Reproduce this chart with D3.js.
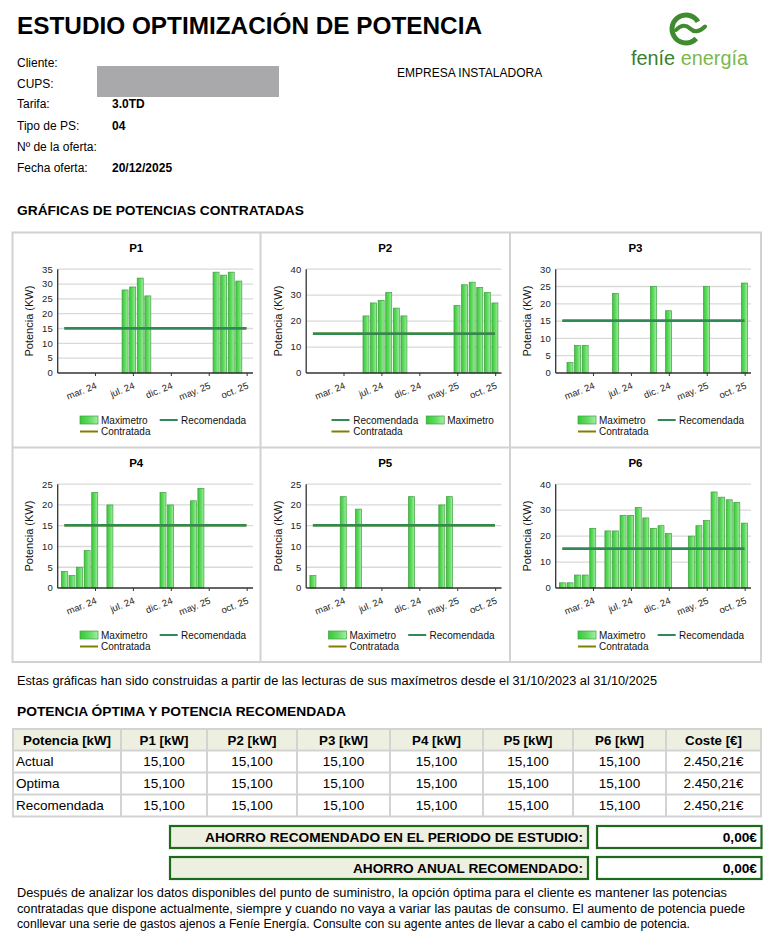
<!DOCTYPE html>
<html><head><meta charset="utf-8">
<script src="https://cdn.jsdelivr.net/npm/d3@7"></script>
<style>
html,body{margin:0;padding:0;background:#fff;}
svg{display:block;font-family:"Liberation Sans",Arial,Helvetica,sans-serif;}
</style></head><body>
<svg id="page" width="774" height="931"></svg>
<script>
// ---------- DATA ----------
const readings = [1,2,3,4,5,6,7,8,9,10,11,12,13,14,15,16,17,18,19,20,21,22,23,24,25];
const P1 = [null,null,null,null,null,null,null,null,28,29,32,26,null,null,null,null,null,null,null,null,34,33,34,31,null];
const P2 = [null,null,null,null,null,null,null,22,27,28,31,25,22,null,null,null,null,null,null,26,34,35,33,31,27];
const P3 = [null,3,8,8,null,null,null,23,null,null,null,null,25,null,18,null,null,null,null,25,null,null,null,null,26];
const P4 = [4,3,5,9,23,null,20,null,null,null,null,null,null,23,20,null,null,21,24,null,null,null,null,null,null];
const P5 = [3,null,null,null,22,null,19,null,null,null,null,null,null,22,null,null,null,20,22,null,null,null,null,null,null];
const P6 = [2,2,5,5,23,null,22,22,28,28,31,27,23,24,21,null,null,20,24,26,37,35,34,33,25];
const periodNames = ["P1","P2","P3","P4","P5","P6"];
const recomendada = [15.1,15.1,15.1,15.1,15.1,15.1];
const contratada = [15.1,15.1,15.1,15.1,15.1,15.1];
const yMax = [35,40,30,25,25,40];
const yStep = [5,10,5,5,5,10];
const xTickLabels = ["mar. 24","jul. 24","dic. 24","may. 25","oct. 25"];
const xTickAt = [5.1,10.1,15.1,20.1,25.1];
const legendFirstLine = [false,true,false,false,false,false];

const infoLabels = ["Cliente:","CUPS:","Tarifa:","Tipo de PS:","Nº de la oferta:","Fecha oferta:"];
const infoValues = ["","","3.0TD","04","","20/12/2025"];

const tableHeader = ["Potencia [kW]","P1 [kW]","P2 [kW]","P3 [kW]","P4 [kW]","P5 [kW]","P6 [kW]","Coste [€]"];
const tableRowNames = ["Actual","Optima","Recomendada"];
const potActual = [15.1,15.1,15.1,15.1,15.1,15.1];
const potOptima = [15.1,15.1,15.1,15.1,15.1,15.1];
const potRecomendada = [15.1,15.1,15.1,15.1,15.1,15.1];
const costes = [2450.21,2450.21,2450.21];
const ahorroLabels = ["AHORRO RECOMENDADO EN EL PERIODO DE ESTUDIO:","AHORRO ANUAL RECOMENDADO:"];
const ahorroValues = [0,0];

// ---------- PAGE ----------
const svg = d3.select("#page");
const loc = d3.formatLocale({decimal:",",thousands:".",grouping:[3],currency:["","€"]});
const fPot = loc.format(",.3f"), fEur = loc.format("$,.2f");

const defs = svg.append("defs");
const gr = defs.append("linearGradient").attr("id","barGrad").attr("x1","0").attr("x2","1").attr("y1","0").attr("y2","0");
gr.append("stop").attr("offset","0%").attr("stop-color","#36c936");
gr.append("stop").attr("offset","55%").attr("stop-color","#66dc66");
gr.append("stop").attr("offset","100%").attr("stop-color","#a6eea6");

// Title
svg.append("text").attr("x",17).attr("y",34).attr("font-size",24.5).attr("font-weight","bold")
  .attr("textLength",465).attr("lengthAdjust","spacingAndGlyphs")
  .text("ESTUDIO OPTIMIZACIÓN DE POTENCIA");

// Logo
const logo = svg.append("g");
logo.append("path").attr("d", d3.arc()({innerRadius:11.5,outerRadius:16.5,startAngle:Math.PI/2+0.75,endAngle:Math.PI/2+2*Math.PI-0.55}))
  .attr("transform","translate(686,29)").attr("fill","#3e8c2e");
logo.append("path").attr("d","M676,30 C681,24.5 686,24.5 690,28.5 C694,32.5 699,32.5 705,26.5")
  .attr("fill","none").attr("stroke","#3e8c2e").attr("stroke-width",4).attr("stroke-linecap","round");
const lt = logo.append("text").attr("x",631).attr("y",65).attr("font-size",19.5)
  .attr("textLength",117).attr("lengthAdjust","spacingAndGlyphs");
lt.append("tspan").attr("fill","#3a7f2b").text("feníe ");
lt.append("tspan").attr("fill","#7cb84a").text("energía");

// Info block
const infoY = [67,88,108,130,151,172];
infoLabels.forEach((l,i)=>{
  svg.append("text").attr("x",17).attr("y",infoY[i]).attr("font-size",12).text(l);
  if(infoValues[i]) svg.append("text").attr("x",112).attr("y",infoY[i]).attr("font-size",12).attr("font-weight","bold").text(infoValues[i]);
});
svg.append("rect").attr("x",97).attr("y",66).attr("width",182).attr("height",31).attr("fill","#a9a9ac");
svg.append("text").attr("x",397).attr("y",77).attr("font-size",12).text("EMPRESA INSTALADORA");

svg.append("text").attr("x",17).attr("y",215).attr("font-size",13.3).attr("font-weight","bold")
  .attr("textLength",287).attr("lengthAdjust","spacingAndGlyphs").text("GRÁFICAS DE POTENCIAS CONTRATADAS");

// ---------- CHARTS ----------
const colX = [12,260.5,510], rowY = [232.5,447.5];
const PW = 195.3, PH = 103.8, PL = 45.7, PT = 36.7;
const x = d3.scaleLinear().domain([0.116,25.87]).range([0,PW]);
const series = [P1,P2,P3,P4,P5,P6];

series.forEach((vals,i)=>{
  const col = i%3, row = Math.floor(i/3);
  const cell = svg.append("g").attr("transform",`translate(${colX[col]},${rowY[row]})`);
  const cw = col===2 ? 251 : (colX[col+1]-colX[col]);
  cell.append("text").attr("x",cw/2).attr("y",19).attr("text-anchor","middle")
    .attr("font-size",11.5).attr("font-weight","bold").text(periodNames[i]);
  cell.append("text").attr("transform",`translate(21,${PT+PH/2}) rotate(-90)`).attr("text-anchor","middle")
    .attr("font-size",11).attr("fill","#111").text("Potencia (KW)");
  const g = cell.append("g").attr("transform",`translate(${PL},${PT})`);
  const y = d3.scaleLinear().domain([0,yMax[i]]).range([PH,0]);
  const ticks = d3.range(0,yMax[i]+0.001,yStep[i]);
  g.selectAll(".grid").data(ticks.filter(t=>t>0)).join("line")
    .attr("x1",0).attr("x2",PW).attr("y1",d=>y(d)).attr("y2",d=>y(d))
    .attr("stroke","#d9d9d9").attr("stroke-width",1.3);
  g.selectAll(".yl").data(ticks).join("text").attr("x",-5).attr("y",d=>y(d)).attr("dy","0.35em")
    .attr("text-anchor","end").attr("font-size",9.5).attr("fill","#222").text(d=>d);
  const pts = readings.map((r,k)=>({r,v:vals[k]})).filter(d=>d.v!=null);
  g.selectAll(".bar").data(pts).join("rect")
    .attr("x",d=>x(d.r)-3).attr("width",6).attr("y",d=>y(d.v)).attr("height",d=>PH-y(d.v))
    .attr("fill","url(#barGrad)").attr("stroke","#3f9e3f").attr("stroke-width",0.7);
  g.append("line").attr("x1",x(readings[0])).attr("x2",x(readings[readings.length-1]))
    .attr("y1",y(contratada[i])).attr("y2",y(contratada[i])).attr("stroke","#808000").attr("stroke-width",2.5);
  g.append("line").attr("x1",x(readings[0])).attr("x2",x(readings[readings.length-1]))
    .attr("y1",y(recomendada[i])).attr("y2",y(recomendada[i])).attr("stroke","#2e8b57").attr("stroke-width",2.5);
  // axes
  g.append("line").attr("x1",0).attr("x2",0).attr("y1",0).attr("y2",PH).attr("stroke","#333").attr("stroke-width",1.3);
  g.append("line").attr("x1",0).attr("x2",PW).attr("y1",PH).attr("y2",PH).attr("stroke","#333").attr("stroke-width",1.3);
  g.selectAll(".xt").data(xTickAt).join("line").attr("x1",d=>x(d)).attr("x2",d=>x(d))
    .attr("y1",PH).attr("y2",PH+3).attr("stroke","#333").attr("stroke-width",1);
  g.selectAll(".xl").data(xTickAt).join("text")
    .attr("transform",d=>`translate(${x(d)+2},${PH+15}) rotate(-22)`)
    .attr("text-anchor","end").attr("font-size",9.5).attr("fill","#222")
    .text((d,k)=>xTickLabels[k]);
  // legend
  const L = cell.append("g").attr("font-size",10).attr("fill","#111");
  const first = legendFirstLine[i];
  const slotA = {sx:68, tx:89}, slotB = {sx:147.7, tx:169};
  const slotA2 = {sx:71, tx:92.7}, slotB2 = {sx:165.7, tx:186.7};
  const drawMax = (s,yy)=>{
    L.append("rect").attr("x",s.sx).attr("y",yy-4).attr("width",18).attr("height",8)
      .attr("fill","url(#barGrad)").attr("stroke","#3f9e3f").attr("stroke-width",0.7);
    L.append("text").attr("x",s.tx).attr("y",yy).attr("dy","0.35em").text("Maximetro");
  };
  const drawLine = (s,yy,color,label)=>{
    L.append("line").attr("x1",s.sx).attr("x2",s.sx+18).attr("y1",yy).attr("y2",yy).attr("stroke",color).attr("stroke-width",2);
    L.append("text").attr("x",s.tx).attr("y",yy).attr("dy","0.35em").text(label);
  };
  if(first){
    drawLine(slotA2,187.5,"#2e8b57","Recomendada");
    drawMax(slotB2,187.5);
    drawLine(slotA2,199,"#808000","Contratada");
  } else {
    drawMax(slotA,187.5);
    drawLine(slotB,187.5,"#2e8b57","Recomendada");
    drawLine(slotA,199,"#808000","Contratada");
  }
});
// panel borders
const bc = "#d2d2d2";
svg.append("rect").attr("x",12.5).attr("y",232.5).attr("width",748.5).attr("height",429.5).attr("fill","none").attr("stroke",bc).attr("stroke-width",2);
[260.5,510].forEach(xx=>svg.append("line").attr("x1",xx).attr("x2",xx).attr("y1",232.5).attr("y2",662).attr("stroke",bc).attr("stroke-width",2));
svg.append("line").attr("x1",12.5).attr("x2",761).attr("y1",447.5).attr("y2",447.5).attr("stroke",bc).attr("stroke-width",2);

svg.append("text").attr("x",17).attr("y",685).attr("font-size",12)
  .attr("textLength",640).attr("lengthAdjust","spacingAndGlyphs")
  .text("Estas gráficas han sido construidas a partir de las lecturas de sus maxímetros desde el 31/10/2023 al 31/10/2025");
svg.append("text").attr("x",17).attr("y",716).attr("font-size",13.3).attr("font-weight","bold")
  .attr("textLength",329).attr("lengthAdjust","spacingAndGlyphs").text("POTENCIA ÓPTIMA Y POTENCIA RECOMENDADA");

// ---------- TABLE ----------
const tx = [13,121,207,297,390,483,573,666,761];
const ty = [729,750.5,772.5,794.5,816.5];
const rowsData = [potActual,potOptima,potRecomendada];
const T = svg.append("g");
T.append("rect").attr("x",tx[0]).attr("y",ty[0]).attr("width",tx[8]-tx[0]).attr("height",ty[1]-ty[0]).attr("fill","#edefe0");
tableHeader.forEach((h,c)=>{
  T.append("text").attr("x",(tx[c]+tx[c+1])/2).attr("y",(ty[0]+ty[1])/2).attr("dy","0.36em")
    .attr("text-anchor","middle").attr("font-size",13.3).attr("font-weight","bold").text(h);
});
tableRowNames.forEach((rn,r)=>{
  const cy = (ty[r+1]+ty[r+2])/2;
  T.append("text").attr("x",tx[0]+3).attr("y",cy).attr("dy","0.36em").attr("font-size",13.5).text(rn);
  rowsData[r].forEach((v,c)=>{
    T.append("text").attr("x",(tx[c+1]+tx[c+2])/2).attr("y",cy).attr("dy","0.36em")
      .attr("text-anchor","middle").attr("font-size",13.5).text(fPot(v));
  });
  T.append("text").attr("x",(tx[7]+tx[8])/2).attr("y",cy).attr("dy","0.36em")
    .attr("text-anchor","middle").attr("font-size",13.5).text(fEur(costes[r]));
});
tx.forEach(xx=>T.append("line").attr("x1",xx).attr("x2",xx).attr("y1",ty[0]).attr("y2",ty[4]).attr("stroke","#d3d3d3").attr("stroke-width",2));
ty.forEach(yy=>T.append("line").attr("x1",tx[0]-1).attr("x2",tx[8]+1).attr("y1",yy).attr("y2",yy).attr("stroke","#d3d3d3").attr("stroke-width",2));

// ---------- AHORRO ----------
const ay = [826,857];
const ahorroW = [378,230];
ahorroLabels.forEach((l,k)=>{
  svg.append("rect").attr("x",170).attr("y",ay[k]).attr("width",418).attr("height",22)
    .attr("fill","#edefe0").attr("stroke","#1d6a1d").attr("stroke-width",2.2);
  svg.append("rect").attr("x",597).attr("y",ay[k]).attr("width",164.5).attr("height",22)
    .attr("fill","#fff").attr("stroke","#1d6a1d").attr("stroke-width",2.2);
  svg.append("text").attr("x",583).attr("y",ay[k]+11).attr("dy","0.36em").attr("text-anchor","end")
    .attr("font-size",13.7).attr("font-weight","bold")
    .attr("textLength",ahorroW[k]).attr("lengthAdjust","spacingAndGlyphs").text(l);
  svg.append("text").attr("x",757).attr("y",ay[k]+11).attr("dy","0.36em").attr("text-anchor","end")
    .attr("font-size",13.7).attr("font-weight","bold").text(fEur(ahorroValues[k]));
});

const para = [
 "Después de analizar los datos disponibles del punto de suministro, la opción óptima para el cliente es mantener las potencias",
 "contratadas que dispone actualmente, siempre y cuando no vaya a variar las pautas de consumo. El aumento de potencia puede",
 "conllevar una serie de gastos ajenos a Feníe Energía. Consulte con su agente antes de llevar a cabo el cambio de potencia."
];
const paraW = [710,728,673];
para.forEach((p,k)=>{
  svg.append("text").attr("x",17).attr("y",897+k*15.7).attr("font-size",12)
    .attr("textLength",paraW[k]).attr("lengthAdjust","spacingAndGlyphs").text(p);
});
</script>
</body></html>
